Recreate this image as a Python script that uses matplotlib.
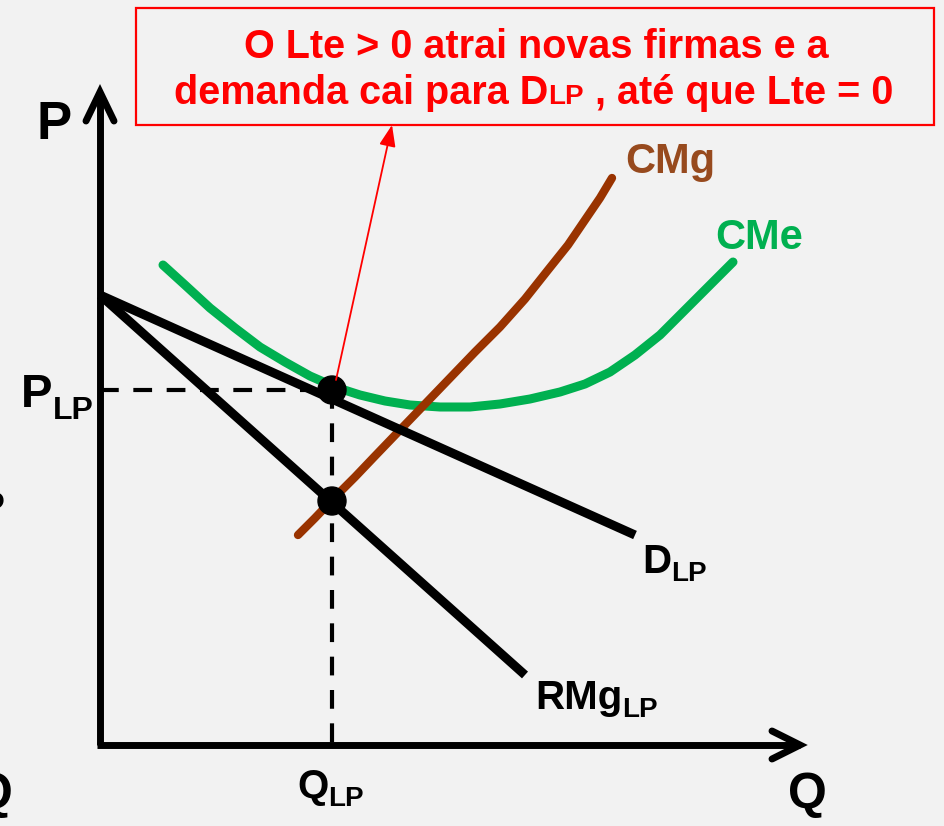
import matplotlib
matplotlib.use("Agg")
import matplotlib.pyplot as plt
from matplotlib.patches import Rectangle, Circle

# ---- data (pixel-like coordinates of the drawing space) ----
demand_x = [100, 635]
demand_y = [295, 535]
rmg_x = [100, 525]
rmg_y = [295, 675]
cmg_x = [298, 315, 335, 355, 375, 400, 425, 450, 475, 500, 525, 548, 568, 585, 600, 612]
cmg_y = [535, 518, 497, 477, 456, 430, 404, 378, 352, 327, 299, 270, 245, 220, 198, 178]
cme_x = [163, 185, 210, 235, 260, 285, 310, 335, 360, 385, 410, 440, 470, 500, 530, 560,
         585, 610, 635, 660, 685, 710, 733]
cme_y = [265, 285, 308, 328, 347, 362, 376, 387, 395, 401, 405, 407, 407, 404, 399, 392,
         384, 372, 355, 335, 310, 285, 262]
eq_q = 332
eq_p = 390
rmg_at_q = 501
box_line1 = "O Lte > 0 atrai novas firmas e a"
box_line2 = ["demanda cai para D", "LP", " , até que Lte = 0"]

BG = "#f2f2f2"
fig = plt.figure(figsize=(9.45, 8.26), dpi=100, facecolor=BG)
ax = fig.add_axes([0, 0, 1, 1])
ax.set_xlim(0, 945)
ax.set_ylim(826, 0)
ax.axis("off")
ax.set_facecolor(BG)
fig.canvas.draw()
R = fig.canvas.get_renderer()

FAM = ["Liberation Sans", "DejaVu Sans"]


def right_edge(t):
    bb = t.get_window_extent(R)
    return ax.transData.inverted().transform((bb.x1, 0))[0]


def sub_label(x, y, base, sub, size, subsize, color="black", dy=8, z=9):
    t = ax.text(x, y, base, fontsize=size, fontweight="bold", family=FAM, color=color,
                ha="left", va="baseline", zorder=z)
    xe = right_edge(t)
    ax.text(xe, y + dy, sub, fontsize=subsize, fontweight="bold", family=FAM, color=color,
            ha="left", va="baseline", zorder=z)


# axes
ax.plot([100, 100], [745, 93], color="black", lw=5, solid_capstyle="butt", zorder=3)
ax.plot([97, 800], [745, 745], color="black", lw=5, solid_capstyle="butt", zorder=3)
ax.plot([86, 100, 114], [121, 92, 121], color="black", lw=5, solid_capstyle="round",
        solid_joinstyle="miter", zorder=3)
ax.plot([772, 800, 772], [731, 745, 759], color="black", lw=5, solid_capstyle="round",
        solid_joinstyle="miter", zorder=3)

# dashed guides
ax.plot([100, eq_q], [eq_p, eq_p], color="black", lw=3, ls=(0, (4.5, 3.5)), zorder=2)
ax.plot([eq_q, eq_q], [eq_p, 745], color="black", lw=3, ls=(0, (4.5, 3.5)), zorder=2)

# curves
ax.plot(cme_x, cme_y, color="#00b050", lw=6.5, solid_capstyle="round",
        solid_joinstyle="round", zorder=3)
ax.plot(cmg_x, cmg_y, color="#993300", lw=6, solid_capstyle="round",
        solid_joinstyle="round", zorder=4)
ax.plot(demand_x, demand_y, color="black", lw=6.5, solid_capstyle="butt", zorder=5)
ax.plot(rmg_x, rmg_y, color="black", lw=6.5, solid_capstyle="butt", zorder=5)

# points
ax.add_patch(Circle((eq_q, eq_p), 14, color="black", zorder=6))
ax.add_patch(Circle((eq_q, rmg_at_q), 14, color="black", zorder=6))

# red annotation arrow
ax.annotate("", xy=(392, 125), xytext=(336, 380),
            arrowprops=dict(arrowstyle="-|>,head_length=1.3,head_width=0.5",
                            color="red", lw=1.3, shrinkA=0, shrinkB=0), zorder=7)

# red box
ax.add_patch(Rectangle((136, 8), 798, 117, facecolor=BG, edgecolor="red", lw=1.6, zorder=8))
ax.text(536, 58, box_line1, color="red", fontsize=28.5, fontweight="bold",
        family=FAM, ha="center", va="baseline", zorder=9)
t1 = ax.text(174, 104, box_line2[0], color="red", fontsize=28.5, fontweight="bold",
             family=FAM, ha="left", va="baseline", zorder=9)
t2 = ax.text(right_edge(t1), 104, box_line2[1], color="red", fontsize=20, fontweight="bold",
             family=FAM, ha="left", va="baseline", zorder=9)
ax.text(right_edge(t2), 104, box_line2[2], color="red", fontsize=28.5, fontweight="bold",
        family=FAM, ha="left", va="baseline", zorder=9)

# labels
ax.text(36, 139, "P", fontsize=38, fontweight="bold", family=FAM, ha="left", va="baseline")
ax.text(788, 808, "Q", fontsize=36, fontweight="bold", family=FAM, ha="left", va="baseline")
ax.text(-26, 808, "Q", fontsize=36, fontweight="bold", family=FAM, ha="left", va="baseline")
ax.text(-22, 519, "P", fontsize=28, fontweight="bold", family=FAM, ha="left", va="baseline")
sub_label(21, 407, "P", "LP", 34, 23, dy=12)
sub_label(297, 798, "Q", "LP", 29, 20, dy=8)
sub_label(642, 573, "D", "LP", 29, 20, dy=8)
sub_label(535, 709, "RMg", "LP", 29, 20, dy=8)
ax.text(625, 173, "CMg", fontsize=30, fontweight="bold", family=FAM, color="#974a1e",
        ha="left", va="baseline")
ax.text(715, 249, "CMe", fontsize=30, fontweight="bold", family=FAM, color="#00b050",
        ha="left", va="baseline")

fig.savefig("out.png", dpi=100, facecolor=BG)
